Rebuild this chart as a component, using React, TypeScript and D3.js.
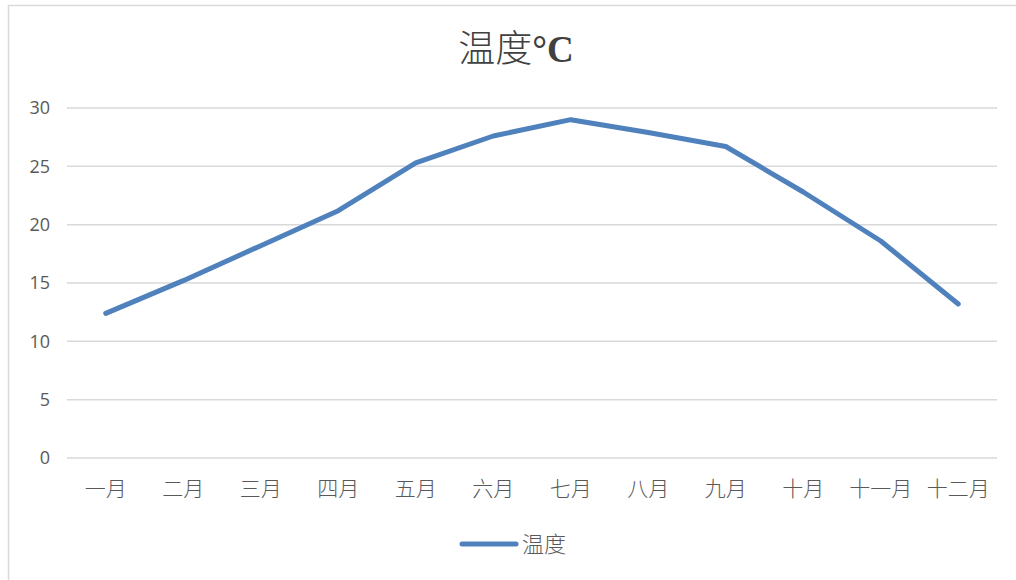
import React, { useRef, useEffect } from 'react';
import * as d3 from 'd3';

// chart data
const months = ['一月', '二月', '三月', '四月', '五月', '六月', '七月', '八月', '九月', '十月', '十一月', '十二月'];
const temps = [12.4, 15.2, 18.2, 21.2, 25.3, 27.6, 29.0, 27.9, 26.7, 22.8, 18.6, 13.2];
const yTicks = [0, 5, 10, 15, 20, 25, 30];
const seriesName = '温度';
const chartTitle = '温度';
const titleUnit = '°C';

const LINE_COLOR = '#4f81bd';
const GRID_COLOR = '#d9d9d9';
const TEXT_COLOR = '#595959';
const CJK = '"Noto Sans CJK SC", "Noto Sans", sans-serif';

const App = () => {
    const svgRef = useRef<SVGSVGElement>(null);

    useEffect(() => {
        if (!svgRef.current) return;
        const svg = d3.select(svgRef.current);
        svg.selectAll('*').remove();

        const W = 1016;
        const H = 580;
        const plot = { left: 67, right: 997, top: 108, bottom: 458 };

        // Outer chart frame (extends past the window on right/bottom)
        svg.append('rect')
            .attr('x', 8.5)
            .attr('y', 5.5)
            .attr('width', W + 100)
            .attr('height', H + 100)
            .attr('fill', '#fff')
            .attr('stroke', GRID_COLOR)
            .attr('stroke-width', 1.5);

        // Scales
        const x = d3.scaleBand<string>()
            .domain(months)
            .range([plot.left, plot.right])
            .padding(0);

        const y = d3.scaleLinear()
            .domain([0, 30])
            .range([plot.bottom, plot.top]);

        // Title
        const title = svg.append('text')
            .attr('x', 516)
            .attr('y', 62)
            .attr('text-anchor', 'middle')
            .attr('fill', '#404040')
            .attr('font-size', 37);
        title.append('tspan')
            .attr('font-family', CJK)
            .attr('font-weight', 300)
            .text(chartTitle);
        title.append('tspan')
            .attr('font-family', '"Liberation Serif", serif')
            .attr('font-weight', 'bold')
            .text(titleUnit);

        // Gridlines
        svg.append('g')
            .selectAll('line')
            .data(yTicks)
            .join('line')
            .attr('x1', plot.left)
            .attr('x2', plot.right)
            .attr('y1', d => y(d))
            .attr('y2', d => y(d))
            .attr('stroke', GRID_COLOR)
            .attr('stroke-width', 1.5);

        // Y tick labels
        svg.append('g')
            .selectAll('text')
            .data(yTicks)
            .join('text')
            .attr('x', 50)
            .attr('y', d => y(d))
            .attr('dy', '0.35em')
            .attr('text-anchor', 'end')
            .attr('font-family', '"Open Sans", sans-serif')
            .attr('font-size', 18)
            .attr('fill', TEXT_COLOR)
            .text(d => d);

        // X tick labels
        svg.append('g')
            .selectAll('text')
            .data(months)
            .join('text')
            .attr('x', d => (x(d) as number) + x.bandwidth() / 2)
            .attr('y', 489)
            .attr('dy', '0.35em')
            .attr('text-anchor', 'middle')
            .attr('font-family', CJK)
            .attr('font-weight', 300)
            .attr('font-size', 21)
            .attr('fill', TEXT_COLOR)
            .text(d => d);

        // Line
        const line = d3.line<number>()
            .x((d, i) => (x(months[i]) as number) + x.bandwidth() / 2)
            .y(d => y(d));

        svg.append('path')
            .datum(temps)
            .attr('fill', 'none')
            .attr('stroke', LINE_COLOR)
            .attr('stroke-width', 5)
            .attr('stroke-linejoin', 'round')
            .attr('stroke-linecap', 'round')
            .attr('d', line);

        // Legend
        svg.append('line')
            .attr('x1', 462)
            .attr('x2', 516)
            .attr('y1', 544)
            .attr('y2', 544)
            .attr('stroke', LINE_COLOR)
            .attr('stroke-width', 5)
            .attr('stroke-linecap', 'round');

        svg.append('text')
            .attr('x', 522)
            .attr('y', 544)
            .attr('dy', '0.35em')
            .attr('font-family', CJK)
            .attr('font-weight', 300)
            .attr('font-size', 22)
            .attr('fill', TEXT_COLOR)
            .text(seriesName);
    }, []);

    return (
        <svg
            ref={svgRef}
            width={1016}
            height={580}
            style={{ position: 'absolute', left: 0, top: 0, display: 'block' }}
        />
    );
};

export default App;
